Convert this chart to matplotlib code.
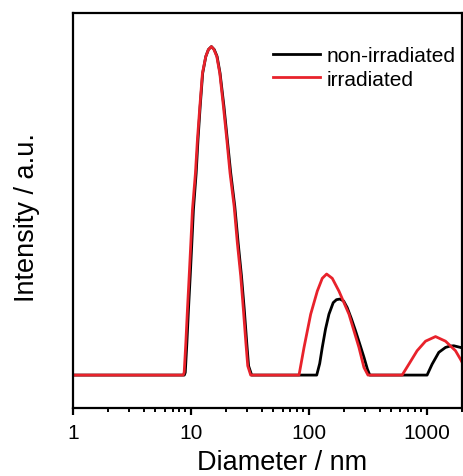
import matplotlib
matplotlib.use('Agg')
import matplotlib.pyplot as plt

plt.rcParams['font.family'] = ['Liberation Sans', 'DejaVu Sans']

# diameters (nm) and intensities (a.u.)
d_black = [1, 8.8, 8.97, 9.26, 9.55, 9.88, 10.2, 10.52, 11.1, 11.5, 12.0, 12.6, 13.4, 14.1, 14.95,
           15.8, 16.7, 17.7, 19.1, 20.4, 21.8, 23.6, 25.2, 26.9, 28.4, 29.8, 30.9, 32.8,
           117, 124, 130.4, 139, 148.6, 161.5, 172, 184, 198, 212.3, 230, 250, 272, 294.5, 315, 330,
           1011, 1115, 1271, 1449, 1580, 1703, 1942, 2100]
i_black = [0, 0, 0.8, 9.9, 20.0, 30.1, 40.2, 50.3, 61.4, 71.5, 81.6, 91.7, 96.8, 98.9, 99.8,
           98.9, 96.8, 91.7, 81.6, 71.5, 61.4, 51.3, 40.2, 30.1, 20.0, 9.9, 2.8, 0,
           0, 3.5, 8.4, 14.0, 18.5, 22.0, 22.9, 23.1, 22.5, 20.5, 17.2, 13.4, 9.3, 5.4, 1.8, 0,
           0, 3.3, 6.9, 8.4, 8.8, 8.9, 8.4, 8.0]

d_red = [1, 8.61, 8.78, 9.07, 9.36, 9.68, 10.0, 10.32, 10.94, 11.37, 11.92, 12.54, 13.39, 14.1, 14.95,
         15.7, 16.6, 17.6, 18.9, 20.2, 21.5, 23.3, 24.8, 26.5, 27.9, 29.3, 30.4, 32.2,
         82.8, 91.3, 104, 118.3, 130.4, 142, 158.5, 180.7, 219.7, 267, 294.5, 318.5,
         621, 708, 832, 981, 1192, 1449, 1761, 1942, 2100]
i_red = [0, 0, 0.8, 9.9, 20.0, 30.1, 40.2, 50.3, 61.4, 71.5, 81.6, 91.7, 96.8, 98.9, 99.8,
         98.9, 96.8, 91.7, 81.6, 71.5, 61.4, 51.3, 40.2, 30.1, 20.0, 9.9, 2.8, 0,
         0, 8.4, 18.5, 25.5, 29.4, 30.7, 29.4, 25.5, 18.5, 8.4, 2.3, 0,
         0, 3.3, 7.4, 10.3, 11.7, 10.3, 7.4, 4.8, 2.5]

fig = plt.figure(figsize=(4.64, 4.77), dpi=100)
ax = fig.add_axes([73 / 464, 68 / 477, 389 / 464, 395 / 477])

ax.plot(d_black, i_black, color='black', lw=2, label='non-irradiated')
ax.plot(d_red, i_red, color='#E8222B', lw=2, label='irradiated')

ax.set_xscale('log')
ax.set_xlim(1, 2000)
ax.set_ylim(-10, 110)
ax.set_xticks([1, 10, 100, 1000])
ax.set_xticklabels(['1', '10', '100', '1000'])
ax.set_yticks([])
ax.tick_params(axis='x', which='major', length=5, width=1.6, labelsize=15, pad=6)
ax.tick_params(axis='x', which='minor', length=3, width=1.4)
for s in ax.spines.values():
    s.set_linewidth(1.6)

ax.set_xlabel('Diameter / nm', fontsize=19.5)
ax.xaxis.set_label_coords(0.538, -0.105)
ax.set_ylabel('Intensity / a.u.', fontsize=19.5)
ax.yaxis.set_label_coords(-0.085, 0.486)

ax.legend(loc='upper right', bbox_to_anchor=(1.031, 0.963), frameon=False, fontsize=15,
          handlelength=2.25, handletextpad=0.3, labelspacing=0.2)

fig.savefig('out.png', dpi=100)
